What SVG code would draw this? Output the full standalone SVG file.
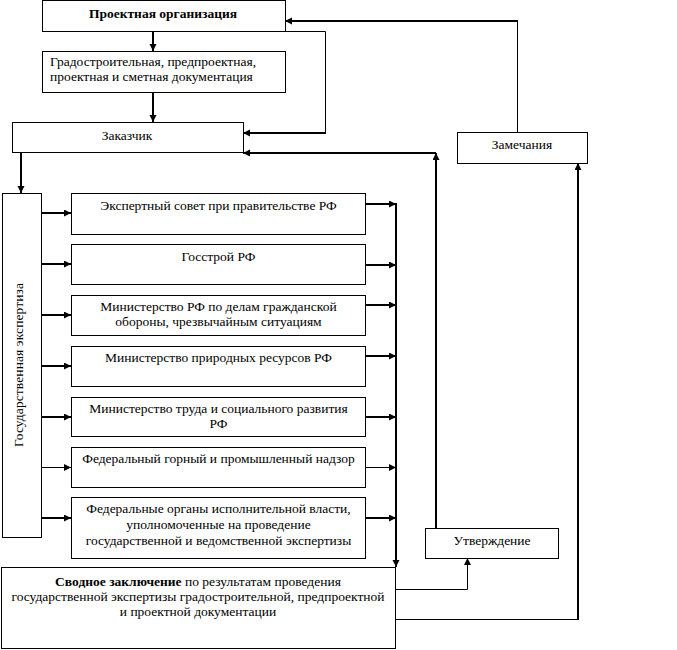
<svg xmlns="http://www.w3.org/2000/svg" width="677" height="650" viewBox="0 0 677 650">
<style>
.box{fill:#fff;stroke:#000;stroke-width:1}
text{font-family:'Liberation Serif','Times New Roman','DejaVu Serif',serif;font-size:13.5px;fill:#000}
.c{text-anchor:middle}
.b{font-weight:bold}
.thick{fill:none;stroke:#000;stroke-width:2}
.thin{fill:none;stroke:#000;stroke-width:1}
</style>
<defs>
<marker id="ah" markerUnits="userSpaceOnUse" markerWidth="8" markerHeight="8" viewBox="0 0 8 8" refX="7" refY="3.5" orient="auto">
<path d="M0,0 L7,3.5 L0,7 z" fill="#000"/>
</marker>
</defs>
<rect width="677" height="650" fill="#fff"/>

<g id="connectors">
<line class="thick" x1="153" y1="31" x2="153" y2="51" marker-end="url(#ah)"/>
<line class="thick" x1="153" y1="93" x2="153" y2="122" marker-end="url(#ah)"/>
<line class="thick" x1="21" y1="153" x2="21" y2="193" marker-end="url(#ah)"/>
<path class="thin" d="M285,31.5 H325.5 V133"/>
<line class="thick" x1="326" y1="133" x2="243" y2="133" marker-end="url(#ah)"/>
<line class="thin" x1="517.5" y1="132" x2="517.5" y2="21"/>
<line class="thick" x1="518" y1="21" x2="285" y2="21" marker-end="url(#ah)"/>
<line class="thick" x1="436" y1="528" x2="436" y2="153" marker-end="url(#ah)"/>
<line class="thick" x1="436" y1="153" x2="243" y2="153" marker-end="url(#ah)"/>
<line class="thick" x1="41" y1="213" x2="71" y2="213" marker-end="url(#ah)"/>
<line class="thick" x1="41" y1="264" x2="71" y2="264" marker-end="url(#ah)"/>
<line class="thick" x1="41" y1="315" x2="71" y2="315" marker-end="url(#ah)"/>
<line class="thick" x1="41" y1="366" x2="71" y2="366" marker-end="url(#ah)"/>
<line class="thick" x1="41" y1="417" x2="71" y2="417" marker-end="url(#ah)"/>
<line class="thin" x1="41" y1="467.5" x2="71" y2="467.5" marker-end="url(#ah)"/>
<line class="thick" x1="41" y1="518" x2="71" y2="518" marker-end="url(#ah)"/>
<line class="thick" x1="366" y1="204" x2="396" y2="204" marker-end="url(#ah)"/>
<line class="thick" x1="366" y1="265" x2="396" y2="265" marker-end="url(#ah)"/>
<line class="thick" x1="366" y1="305" x2="396" y2="305" marker-end="url(#ah)"/>
<line class="thick" x1="366" y1="356" x2="396" y2="356" marker-end="url(#ah)"/>
<line class="thick" x1="366" y1="417" x2="396" y2="417" marker-end="url(#ah)"/>
<line class="thin" x1="366" y1="467.5" x2="396" y2="467.5" marker-end="url(#ah)"/>
<line class="thick" x1="366" y1="518" x2="396" y2="518" marker-end="url(#ah)"/>
<line class="thick" x1="396" y1="203" x2="396" y2="567" marker-end="url(#ah)"/>
<path class="thin" d="M395,589.5 H467.5 V558" marker-end="url(#ah)"/>
<line class="thin" x1="395" y1="619.5" x2="578" y2="619.5"/>
<line class="thick" x1="578" y1="620" x2="578" y2="163" marker-end="url(#ah)"/>
</g>

<g id="proekt-org">
<rect class="box" x="42.5" y="0.5" width="243" height="31"/>
<text class="c b" x="163" y="18">Проектная организация</text>
</g>
<g id="dokumentaciya">
<rect class="box" x="42.5" y="51.5" width="243" height="41"/>
<text x="50" y="66">Градостроительная, предпроектная,</text>
<text x="50" y="81">проектная и сметная документация</text>
</g>
<g id="zakazchik">
<rect class="box" x="12.5" y="122.5" width="231" height="30"/>
<text class="c" x="127" y="140">Заказчик</text>
</g>
<g id="zamechaniya">
<rect class="box" x="457.5" y="132.5" width="130" height="31"/>
<text class="c" x="522" y="149">Замечания</text>
</g>
<g id="gos-ekspertiza">
<rect class="box" x="2.5" y="193.5" width="39" height="344"/>
<text class="c" transform="translate(23,365) rotate(-90)" x="0" y="0" textLength="164" lengthAdjust="spacing">Государственная экспертиза</text>
</g>
<g id="b1">
<rect class="box" x="71.5" y="193.5" width="294" height="41"/>
<text class="c" x="218.5" y="210">Экспертный совет при правительстве РФ</text>
</g>
<g id="b2">
<rect class="box" x="71.5" y="244.5" width="294" height="40"/>
<text class="c" x="218.5" y="261">Госстрой РФ</text>
</g>
<g id="b3">
<rect class="box" x="71.5" y="295.5" width="294" height="40"/>
<text class="c" x="218.5" y="311">Министерство РФ по делам гражданской</text>
<text class="c" x="218.5" y="326">обороны, чрезвычайным ситуациям</text>
</g>
<g id="b4">
<rect class="box" x="71.5" y="346.5" width="294" height="40"/>
<text class="c" x="218.5" y="362">Министерство природных ресурсов РФ</text>
</g>
<g id="b5">
<rect class="box" x="71.5" y="397.5" width="294" height="39"/>
<text class="c" x="218.5" y="413">Министерство труда и социального развития</text>
<text class="c" x="218.5" y="428">РФ</text>
</g>
<g id="b6">
<rect class="box" x="71.5" y="447.5" width="294" height="40"/>
<text class="c" x="218.5" y="463">Федеральный горный и промышленный надзор</text>
</g>
<g id="b7">
<rect class="box" x="71.5" y="497.5" width="294" height="61"/>
<text class="c" x="218.5" y="513">Федеральные органы исполнительной власти,</text>
<text class="c" x="218.5" y="529">уполномоченные на проведение</text>
<text class="c" x="218.5" y="545">государственной и ведомственной экспертизы</text>
</g>
<g id="utverzhdenie">
<rect class="box" x="425.5" y="528.5" width="133" height="30"/>
<text class="c" x="492" y="545">Утверждение</text>
</g>
<g id="svodnoe">
<rect class="box" x="1.5" y="567.5" width="394" height="81"/>
<text class="c" x="198" y="586"><tspan class="b">Сводное заключение</tspan> по результатам проведения</text>
<text class="c" x="198" y="601">государственной экспертизы градостроительной, предпроектной</text>
<text class="c" x="198" y="616">и проектной документации</text>
</g>
</svg>
